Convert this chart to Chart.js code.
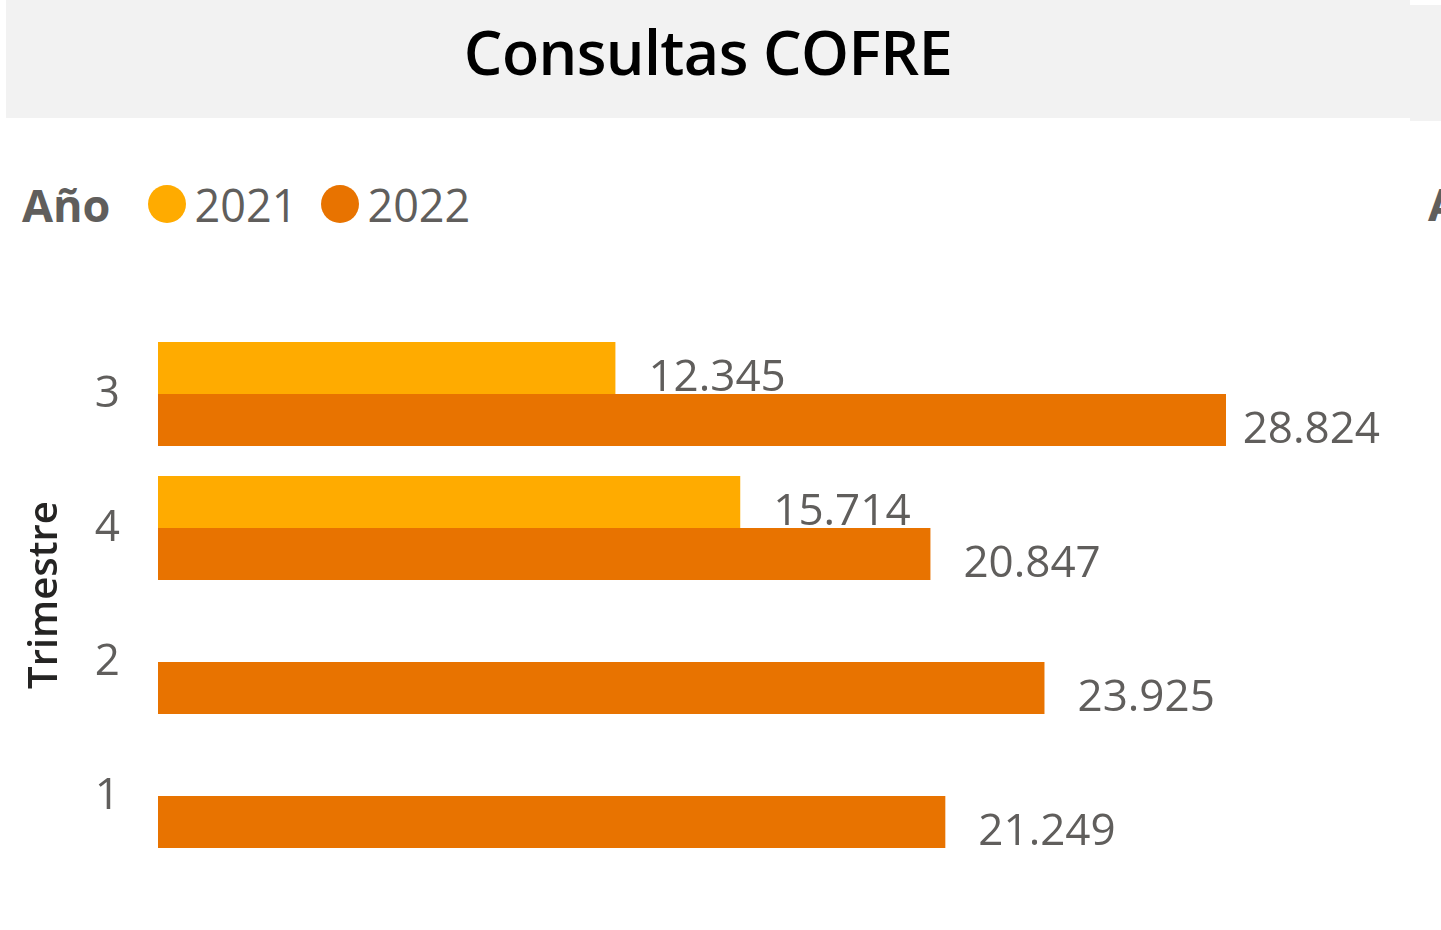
<!DOCTYPE html>
<html>
<head>
<meta charset="utf-8">
<script src="https://cdn.jsdelivr.net/npm/chart.js"></script>
<style>
  html, body { margin: 0; padding: 0; background: #fff; overflow: hidden; }
  body { width: 1441px; height: 930px; position: relative; font-family: "Open Sans", sans-serif; }
  #titlebar { position: absolute; left: 6px; top: 0; width: 1404px; height: 118px; background: #f2f2f2;
    display: flex; align-items: center; justify-content: center; }
  #titlebar span { font-size: 61px; font-weight: 600; color: #000; letter-spacing: -0.6px; margin-top: -16px; }
  #sidebar { position: absolute; left: 1410px; top: 5px; width: 31px; height: 116px; background: #f2f2f2; }
  #legend { position: absolute; left: 22px; top: 177px; height: 54px; display: flex; align-items: center;
    font-size: 45px; color: #605e5c; }
  #legend .ttl { font-weight: 700; margin-right: 38px; }
  #legend .dot { width: 38px; height: 38px; border-radius: 50%; margin-right: 8px; }
  #legend .item { display: flex; align-items: center; margin-right: 24px; }
  #cut { position: absolute; left: 1428px; top: 177px; height: 54px; line-height: 54px; font-size: 45px;
    font-weight: 700; color: #605e5c; }
  #wrap { position: absolute; left: 0; top: 0; width: 1441px; height: 930px; }
</style>
</head>
<body>
<div id="titlebar"><span>Consultas COFRE</span></div>
<div id="sidebar"></div>
<div id="legend"></div>
<div id="cut">Año</div>
<div id="wrap"><canvas id="chart"></canvas></div>
<script>
const trimestres = ['3', '4', '2', '1'];
const years = ['2021', '2022'];
const values2021 = [12345, 15714, null, null];
const values2022 = [28824, 20847, 23925, 21249];
const colors = ['#ffab00', '#e87300'];

const fmt = v => v.toLocaleString('de-DE');

// legend, Power BI style
const legend = document.getElementById('legend');
legend.innerHTML = '<span class="ttl">Año</span>' + years.map((y, i) =>
  `<span class="item"><span class="dot" style="background:${colors[i]}"></span>${y}</span>`).join('');

const labelPlugin = {
  id: 'barLabels',
  afterDatasetsDraw(chart) {
    const ctx = chart.ctx;
    ctx.save();
    ctx.font = '44px "Open Sans"';
    ctx.fillStyle = '#605e5c';
    ctx.textAlign = 'left';
    ctx.textBaseline = 'alphabetic';
    chart.data.datasets.forEach((ds, i) => {
      chart.getDatasetMeta(i).data.forEach((bar, j) => {
        const v = ds.data[j];
        if (v == null) return;
        const txt = fmt(v);
        const w = ctx.measureText(txt).width;
        let x = bar.x + 33;
        if (x + w > 1380) x = 1380 - w;
        ctx.fillText(txt, x, bar.y + bar.height / 2 - 3);
      });
    });
    ctx.restore();
  }
};

const allValues = values2021.concat(values2022).filter(v => v != null);

new Chart(document.getElementById('chart'), {
  type: 'bar',
  data: {
    labels: trimestres,
    datasets: [
      { label: years[0], data: values2021, backgroundColor: colors[0] },
      { label: years[1], data: values2022, backgroundColor: colors[1] }
    ]
  },
  options: {
    indexAxis: 'y',
    responsive: true,
    maintainAspectRatio: false,
    animation: false,
    layout: { padding: { left: 22, top: 327, bottom: 67, right: 215 } },
    datasets: { bar: { categoryPercentage: 0.776, barPercentage: 1 } },
    plugins: {
      legend: { display: false },
      tooltip: { enabled: false }
    },
    scales: {
      x: {
        display: false,
        min: 0,
        max: Math.max(...allValues)
      },
      y: {
        grid: { display: false, drawTicks: false },
        border: { display: false },
        ticks: {
          color: '#605e5c',
          padding: 38,
          font: { family: 'Open Sans', size: 44 }
        },
        title: {
          display: true,
          text: 'Trimestre',
          color: '#252423',
          padding: 0,
          font: { family: 'Open Sans', size: 40, weight: 600 }
        },
        afterFit(scale) { scale.width = 136; }
      }
    }
  },
  plugins: [labelPlugin]
});
</script>
</body>
</html>
